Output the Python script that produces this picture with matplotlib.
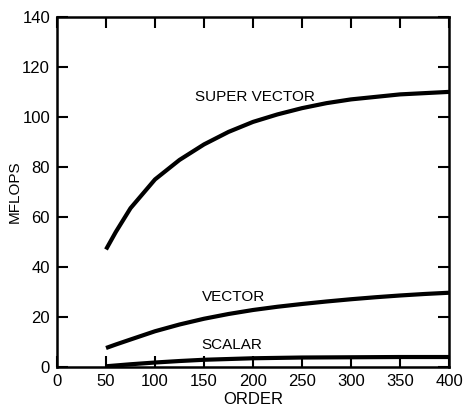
import numpy as np
import matplotlib.pyplot as plt

plt.rcParams['font.family'] = ['Liberation Sans', 'DejaVu Sans']

# Datos
orden = [50, 60, 75, 100, 125, 150, 175, 200, 225, 250, 275, 300, 325, 350, 375, 400]
super_vector = [47, 54, 63.5, 75, 82.8, 89, 94, 98, 101, 103.5, 105.5, 107, 108, 109, 109.5, 110]
vector = [7.6, 9, 11, 14.3, 17, 19.3, 21.2, 22.8, 24.1, 25.2, 26.2, 27.1, 27.9, 28.6, 29.2, 29.7]
orden_s = [50, 75, 100, 125, 150, 175, 200, 250, 300, 350, 400]
escalar = [0.3, 1.1, 1.8, 2.4, 2.9, 3.2, 3.5, 3.8, 3.9, 4.0, 4.0]

x_ticks = [0, 50, 100, 150, 200, 250, 300, 350, 400]
y_ticks = [0, 20, 40, 60, 80, 100, 120, 140]

fig = plt.figure(figsize=(4.65, 4.11), dpi=100)
ax = fig.add_axes([0.1226, 0.107, 0.843, 0.852])

ax.plot(orden, super_vector, color='black', lw=3, solid_capstyle='butt')
ax.plot(orden, vector, color='black', lw=3, solid_capstyle='butt')
ax.plot(orden_s, escalar, color='black', lw=3, solid_capstyle='butt')

ax.text(202, 108, 'SUPER VECTOR', fontsize=11, ha='center', va='center')
ax.text(180, 28, 'VECTOR', fontsize=11, ha='center', va='center')
ax.text(178, 8.8, 'SCALAR', fontsize=11, ha='center', va='center')

ax.set_xlim(0, 400)
ax.set_ylim(0, 140)
ax.set_xticks(x_ticks)
ax.set_yticks(y_ticks)
ax.tick_params(direction='in', length=8, width=1.5, labelsize=12,
               top=True, right=True, pad=5)
for s in ax.spines.values():
    s.set_linewidth(1.8)

ax.set_xlabel('ORDER', fontsize=12, labelpad=2)
ax.set_ylabel('MFLOPS', fontsize=11, labelpad=0)

fig.savefig('out.png', dpi=100)
